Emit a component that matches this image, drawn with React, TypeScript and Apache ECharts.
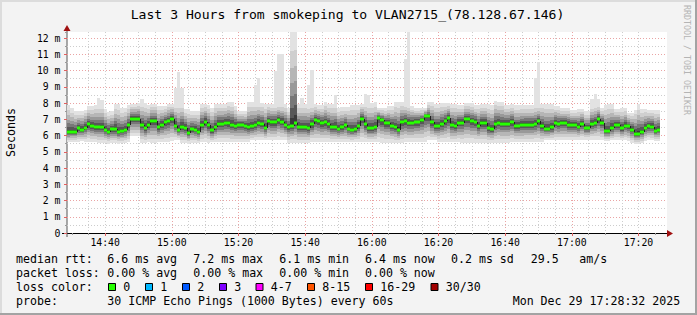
import React, { useEffect, useRef } from 'react';
import * as echarts from 'echarts';

// window: 14:28:33 .. 17:28:33, expressed in minutes after 14:00
const WINDOW_START = 28.55;
const WINDOW_END = 208.55;

// median rtt per minute (ms)
const MEDIAN = [
  6.20, 6.24, 6.24, 6.44, 6.36, 6.48, 6.69, 6.59, 6.50, 6.50,
  6.52, 6.36, 6.24, 6.38, 6.38, 6.20, 6.26, 6.36, 6.63, 7.04,
  7.04, 7.04, 6.67, 6.48, 6.67, 6.87, 6.87, 6.50, 6.67, 6.81,
  6.87, 7.04, 6.61, 6.32, 6.52, 6.46, 6.17, 6.40, 6.34, 6.24,
  6.67, 6.85, 6.63,
  6.32, 6.52, 6.73, 6.73, 6.79, 6.77, 6.67, 6.61, 6.65, 6.65,
  6.61, 6.50, 6.57, 6.63, 6.79, 6.69, 6.48, 6.87, 6.81, 6.81,
  6.98, 6.85, 6.67, 6.50, 6.59, 6.79, 6.54, 6.52, 6.52, 6.48,
  6.69, 6.96, 6.87, 6.77, 6.81, 6.69, 6.52, 6.54, 6.42, 6.50,
  6.65, 6.40, 6.36, 6.38, 6.57,
  7.04, 6.69, 6.46, 6.46, 6.54, 7.08, 6.94, 6.77, 6.77, 6.61,
  6.50, 6.36, 6.81, 6.89, 6.79, 6.79, 6.85, 6.85, 6.94, 7.18,
  7.18, 6.81, 6.59, 6.59, 6.73, 6.87, 7.08, 6.65, 6.57, 6.79,
  6.79, 7.02, 7.02, 6.89, 6.85, 6.61, 6.77, 6.77, 6.48, 6.40,
  6.71, 6.79, 6.73, 6.73, 6.73,
  6.81, 6.57, 6.57, 6.65, 6.67, 6.67, 6.67, 6.73, 6.87, 6.57,
  6.42, 6.42, 6.50, 6.79, 6.71, 6.79, 6.79, 6.67, 6.67, 6.67,
  6.54, 6.71, 6.46, 6.46, 6.71, 6.77, 7.02, 6.79, 6.28, 6.28,
  6.46, 6.67, 6.67, 6.44, 6.61, 6.57, 6.36, 6.11, 6.11, 6.24,
  6.48, 6.59, 6.54, 6.30, 6.36,
];

// upper edge of the smoke (without single-ping spikes)
const SMOKE_HIGH = [
  7.9, 7.7, 7.5, 7.5, 7.5, 7.6, 7.8, 7.8, 7.9, 7.9,
  7.9, 7.65, 7.45, 7.5, 7.95, 7.95, 7.7, 7.7, 7.85, 7.95,
  7.95, 8.0, 8.0, 8.0, 7.85, 7.95, 7.95, 7.8, 7.8, 7.8,
  7.95, 7.95, 8.0, 8.0, 8.0, 7.65, 7.65, 7.5, 7.5, 7.5,
  7.95, 7.95, 7.85,
  7.7, 7.95, 7.95, 7.95, 7.95, 8.05, 8.05, 7.8, 7.5, 7.5,
  7.5, 8.05, 8.05, 8.0, 8.0, 8.0, 7.95, 7.95, 7.95, 7.95,
  7.95, 7.95, 7.95, 7.7, 12.37, 12.37, 7.95, 7.95, 7.95, 7.95,
  7.95, 7.95, 7.85, 7.85, 8.05, 7.95, 7.95, 7.95, 7.7, 7.75,
  7.75, 7.75, 7.85, 7.85, 7.85,
  7.95, 8.0, 8.0, 8.0, 8.05, 7.7, 7.7, 7.7, 7.8, 7.8,
  8.05, 8.05, 8.05, 8.0, 7.9, 7.8, 7.7, 7.7, 7.7, 7.7,
  8.05, 8.05, 7.95, 7.95, 8.0, 8.0, 8.0, 7.95, 7.95, 7.85,
  7.85, 8.0, 8.0, 8.0, 7.85, 7.85, 7.95, 7.95, 7.95, 7.85,
  8.15, 8.05, 8.05, 7.85, 7.85,
  7.95, 7.85, 7.85, 7.85, 7.85, 7.85, 7.85, 7.9, 7.9, 7.95,
  7.95, 7.95, 7.95, 7.8, 7.8, 7.7, 7.7, 7.7, 7.55, 7.55,
  7.65, 7.65, 7.5, 7.5, 7.9, 7.95, 7.9, 7.7, 7.9, 7.95,
  7.95, 7.65, 7.65, 7.7, 7.7, 7.4, 7.4, 7.6, 7.95, 7.65,
  7.65, 7.6, 7.6, 7.6, 7.6,
];

// lower edge of the smoke
const SMOKE_LOW = [
  5.6, 5.6, 5.6, 5.6, 5.65, 5.6, 5.6, 5.6, 5.6, 5.55,
  5.55, 5.55, 5.5, 5.55, 5.55, 5.5, 5.55, 5.55, 5.6, 5.95,
  5.95, 5.95, 5.55, 5.55, 5.6, 5.55, 5.55, 5.6, 5.6, 5.6,
  5.6, 5.65, 5.75, 5.75, 5.55, 5.55, 5.5, 5.55, 5.55, 5.55,
  5.6, 5.6, 5.55,
  5.6, 5.6, 5.6, 5.6, 5.6, 5.6, 5.6, 5.6, 5.6, 5.6,
  5.6, 5.6, 5.7, 5.7, 5.7, 5.7, 5.7, 5.7, 5.7, 5.7,
  5.7, 5.7, 5.7, 5.55, 5.55, 5.55, 5.55, 5.55, 5.55, 5.55,
  5.6, 5.6, 5.6, 5.6, 5.6, 5.6, 5.6, 5.6, 5.6, 5.6,
  5.6, 5.6, 5.6, 5.6, 5.6,
  5.6, 5.6, 5.6, 5.6, 5.6, 5.6, 5.55, 5.55, 5.55, 5.55,
  5.55, 5.55, 5.55, 5.6, 5.6, 5.6, 5.6, 5.6, 5.6, 5.6,
  5.7, 5.7, 5.7, 5.6, 5.6, 5.6, 5.6, 5.6, 5.6, 5.6,
  5.55, 5.55, 5.55, 5.55, 5.55, 5.55, 5.55, 5.55, 5.55, 5.55,
  5.55, 5.55, 5.55, 5.55, 5.55,
  5.6, 5.6, 5.6, 5.6, 5.6, 5.6, 5.6, 5.6, 5.6, 5.6,
  5.7, 5.7, 5.7, 5.7, 5.7, 5.7, 5.7, 5.7, 5.7, 5.7,
  5.75, 5.75, 5.75, 5.75, 5.75, 5.75, 5.7, 5.7, 5.65, 5.65,
  5.7, 5.7, 5.7, 5.7, 5.7, 5.65, 5.55, 5.5, 5.5, 5.55,
  5.65, 5.7, 5.7, 5.65, 5.65,
];

// single slow pings (minute index, max rtt ms)
const SPIKE_AT = [9, 10, 22, 32, 33, 34, 56, 57, 62, 63, 64, 70, 72, 73, 80, 89, 90, 101, 102, 140, 141, 157, 158, 159];
const SPIKE_MAX = [8.3, 8.2, 8.25, 8.9, 9.9, 8.9, 9.1, 9.55, 9.95, 11.0, 11.0, 8.3, 9.1, 10.05, 8.5, 8.55, 8.5, 10.7, 12.35, 9.55, 10.55, 8.25, 8.55, 8.25];

const X_MINOR_TICKS = [30, 35, 40, 45, 50, 55, 60, 65, 70, 75, 80, 85, 90, 95, 100, 105, 110, 115, 120, 125, 130, 135, 140, 145, 150, 155, 160, 165, 170, 175, 180, 185, 190, 195, 200, 205];
const X_MAJOR_TICKS = [40, 60, 80, 100, 120, 140, 160, 180, 200];

const TITLE = 'Last 3 Hours from smokeping to VLAN2715_(78.128.67.146)';
const RTT_STATS = ['6.6 ms avg', '7.2 ms max', '6.1 ms min', '6.4 ms now', '0.2 ms sd', '29.5', 'am/s'];
const LOSS_STATS = ['0.00 % avg', '0.00 % max', '0.00 % min', '0.00 % now'];
const LOSS_LABELS = ['0', '1', '2', '3', '4-7', '8-15', '16-29', '30/30'];
const LOSS_COLORS = ['#26ff00', '#00b8ff', '#0059ff', '#7e00ff', '#ff00ff', '#ff5500', '#ff0000', '#a10000'];
const PROBE = '30 ICMP Echo Pings (1000 Bytes) every 60s';
const STAMP = 'Mon Dec 29 17:28:32 2025';

const MONO = '"DejaVu Sans Mono", monospace';

const SHADES = [
  { f: 1.0, c: '#e2e2e2' },
  { f: 0.8, c: '#cfcfcf' },
  { f: 0.62, c: '#b6b6b6' },
  { f: 0.46, c: '#999999' },
  { f: 0.32, c: '#787878' },
  { f: 0.19, c: '#575757' },
  { f: 0.08, c: '#3a3a3a' },
];

function fmtTime(v: number) {
  const h = 14 + Math.floor(v / 60);
  const m = Math.round(v % 60);
  return `${h}:${String(m).padStart(2, '0')}`;
}

export default function App() {
  const ref = useRef<HTMLDivElement>(null);
  useEffect(() => {
    if (!ref.current) return;
    const chart = echarts.init(ref.current, null, { renderer: 'svg' });

    const spikeMap: Record<number, number> = {};
    SPIKE_AT.forEach((k, i) => { spikeMap[k] = SPIKE_MAX[i]; });

    const smokeData = MEDIAN.map((m, i) => [WINDOW_START + i, m, SMOKE_HIGH[i], SMOKE_LOW[i], spikeMap[i] ?? 0]);
    const medianData = MEDIAN.map((m, i) => [WINDOW_START + i, m, i > 0 ? MEDIAN[i - 1] : m]);

    const txt = (x: number, y: number, text: string, size = 11.6, extra: any = {}) => ({
      type: 'text', x, y, silent: true,
      style: { text, font: `${size}px ${MONO}`, fill: '#000', align: 'left', verticalAlign: 'middle', ...extra },
    });

    const rowY = [259.3, 273.3, 287.3, 301];
    const rttX = [107.3, 193.3, 279.3, 365, 451, 530.7, 579.3];
    const lossX = [107.3, 193.3, 279.3, 365];
    const boxX = [108.5, 145.5, 182.5, 219.5, 256, 307.5, 365.5, 431];

    const graphic: any[] = [
      { type: 'rect', shape: { x: 0, y: 0, width: 697, height: 2 }, style: { fill: '#dcdcdc' }, silent: true },
      { type: 'rect', shape: { x: 0, y: 0, width: 2, height: 315 }, style: { fill: '#dcdcdc' }, silent: true },
      { type: 'rect', shape: { x: 695, y: 0, width: 2, height: 315 }, style: { fill: '#a3a3a3' }, silent: true },
      { type: 'rect', shape: { x: 0, y: 313, width: 697, height: 2 }, style: { fill: '#a3a3a3' }, silent: true },
      txt(347.5, 14, TITLE, 13.1, { align: 'center' }),
      {
        type: 'text', x: 10.5, y: 132.5, rotation: Math.PI / 2, silent: true,
        style: { text: 'Seconds', font: `11.6px ${MONO}`, fill: '#000', align: 'center', verticalAlign: 'middle' },
      },
      {
        type: 'text', x: 687, y: 60, rotation: -Math.PI / 2, silent: true,
        style: { text: 'RRDTOOL / TOBI OETIKER', font: `8.3px ${MONO}`, fill: '#b4b4b4', align: 'center', verticalAlign: 'middle' },
      },
      // axis lines, overhangs and arrows
      { type: 'line', shape: { x1: 62, y1: 233.5, x2: 667, y2: 233.5 }, style: { stroke: '#000', lineWidth: 1 }, silent: true },
      { type: 'line', shape: { x1: 67, y1: 237, x2: 67, y2: 30 }, style: { stroke: '#555', lineWidth: 1 }, silent: true },
      { type: 'polygon', shape: { points: [[667, 230], [673, 233.5], [667, 237]] }, style: { fill: '#a01010' }, silent: true },
      { type: 'polygon', shape: { points: [[63.5, 31], [67, 25], [70.5, 31]] }, style: { fill: '#a01010' }, silent: true },
      txt(16, rowY[0], 'median rtt:'),
      ...RTT_STATS.map((s, i) => txt(rttX[i], rowY[0], s)),
      txt(16, rowY[1], 'packet loss:'),
      ...LOSS_STATS.map((s, i) => txt(lossX[i], rowY[1], s)),
      txt(16, rowY[2], 'loss color:'),
      ...LOSS_LABELS.flatMap((s, i) => [
        { type: 'rect', shape: { x: boxX[i], y: 283.5, width: 7, height: 7 }, style: { fill: LOSS_COLORS[i], stroke: '#000', lineWidth: 1 }, silent: true },
        txt(boxX[i] + 14.8, rowY[2], s),
      ]),
      txt(16, rowY[3], 'probe:'),
      txt(107.3, rowY[3], PROBE),
      txt(512.7, rowY[3], STAMP),
    ];

    const option: any = {
      animation: false,
      backgroundColor: '#f3f3f3',
      grid: { left: 67, right: 30, top: 32, bottom: 82, show: true, backgroundColor: '#ffffff', borderWidth: 0, containLabel: false },
      xAxis: [
        {
          type: 'value', min: WINDOW_START, max: WINDOW_END, position: 'bottom',
          axisLine: { show: false, onZero: false },
          axisTick: { show: true, customValues: X_MINOR_TICKS, length: 2, lineStyle: { color: '#9a9a9a' } },
          axisLabel: { show: false },
          splitLine: { show: true, showMinLine: false, showMaxLine: false, lineStyle: { color: '#cdcdcd', width: 1, type: [1, 2] } },
        },
        {
          type: 'value', min: WINDOW_START, max: WINDOW_END, position: 'bottom',
          axisLine: { show: false, onZero: false },
          axisTick: { show: true, customValues: X_MAJOR_TICKS, length: 3, lineStyle: { color: '#e06060' } },
          axisLabel: { show: true, customValues: X_MAJOR_TICKS, formatter: (v: number) => fmtTime(v), fontFamily: MONO, fontSize: 9.8, color: '#000', margin: 4.5 },
          splitLine: { show: true, showMinLine: false, showMaxLine: false, lineStyle: { color: '#eaa4a4', width: 1, type: [1, 2] } },
        },
      ],
      yAxis: [
        {
          type: 'value', min: 0, max: 12.37, interval: 0.5, position: 'left',
          axisLine: { show: false },
          axisTick: { show: true, length: 2, lineStyle: { color: '#9a9a9a' } },
          axisLabel: { show: false },
          splitLine: { show: true, showMinLine: false, showMaxLine: false, lineStyle: { color: '#cdcdcd', width: 1, type: [1, 2] } },
        },
        {
          type: 'value', min: 0, max: 12.37, interval: 1, position: 'left',
          axisLine: { show: false },
          axisTick: { show: true, length: 3, lineStyle: { color: '#e06060' } },
          axisLabel: {
            show: true, showMaxLabel: false, fontFamily: MONO, fontSize: 9.8, color: '#000', margin: 6.5,
            formatter: (v: number) => (Number.isInteger(v) ? (v === 0 ? '0' : `${v} m`) : ''),
          },
          splitLine: { show: true, showMinLine: false, showMaxLine: false, lineStyle: { color: '#eaa4a4', width: 1, type: [1, 2] } },
        },
      ],
      series: [
        {
          type: 'custom', name: 'smoke', xAxisIndex: 0, yAxisIndex: 0, clip: true,
          data: smokeData, encode: { x: 0, y: 1 },
          renderItem: (_p: any, api: any) => {
            const x = api.value(0), m = api.value(1), up = api.value(2), dn = api.value(3), sp = api.value(4);
            const l = Math.round(api.coord([x, 0])[0]);
            const r = Math.round(api.coord([x + 1, 0])[0]);
            const Y = (v: number) => Math.round(api.coord([x, v])[1]);
            const children: any[] = [];
            if (sp > up) {
              children.push({ type: 'rect', shape: { x: l, y: Y(sp), width: r - l, height: Y(up) - Y(sp) }, style: { fill: '#e2e2e2' } });
            }
            for (const s of SHADES) {
              const top = Y(m + s.f * (up - m));
              const bot = Y(m - s.f * (m - dn));
              children.push({ type: 'rect', shape: { x: l, y: top, width: r - l, height: Math.max(0, bot - top) }, style: { fill: s.c } });
            }
            return { type: 'group', children };
          },
          z: 2,
        },
        {
          type: 'custom', name: 'median', xAxisIndex: 0, yAxisIndex: 0, clip: true,
          data: medianData, encode: { x: 0, y: 1 },
          renderItem: (_p: any, api: any) => {
            const x = api.value(0), m = api.value(1), prev = api.value(2);
            const l = Math.round(api.coord([x, 0])[0]);
            const r = Math.round(api.coord([x + 1, 0])[0]);
            const y = Math.round(api.coord([x, m])[1]);
            const yp = Math.round(api.coord([x, prev])[1]);
            return {
              type: 'group',
              children: [
                { type: 'line', shape: { x1: l + 0.5, y1: yp, x2: l + 0.5, y2: y }, style: { stroke: '#202020', lineWidth: 1 } },
                { type: 'rect', shape: { x: l, y: y - 1.5, width: r - l, height: 3 }, style: { fill: '#26ff00' } },
              ],
            };
          },
          z: 3,
        },
      ],
      graphic,
    };
    chart.setOption(option);
    return () => chart.dispose();
  }, []);
  return <div ref={ref} style={{ position: 'fixed', left: 0, top: 0, width: 697, height: 315 }} />;
}
